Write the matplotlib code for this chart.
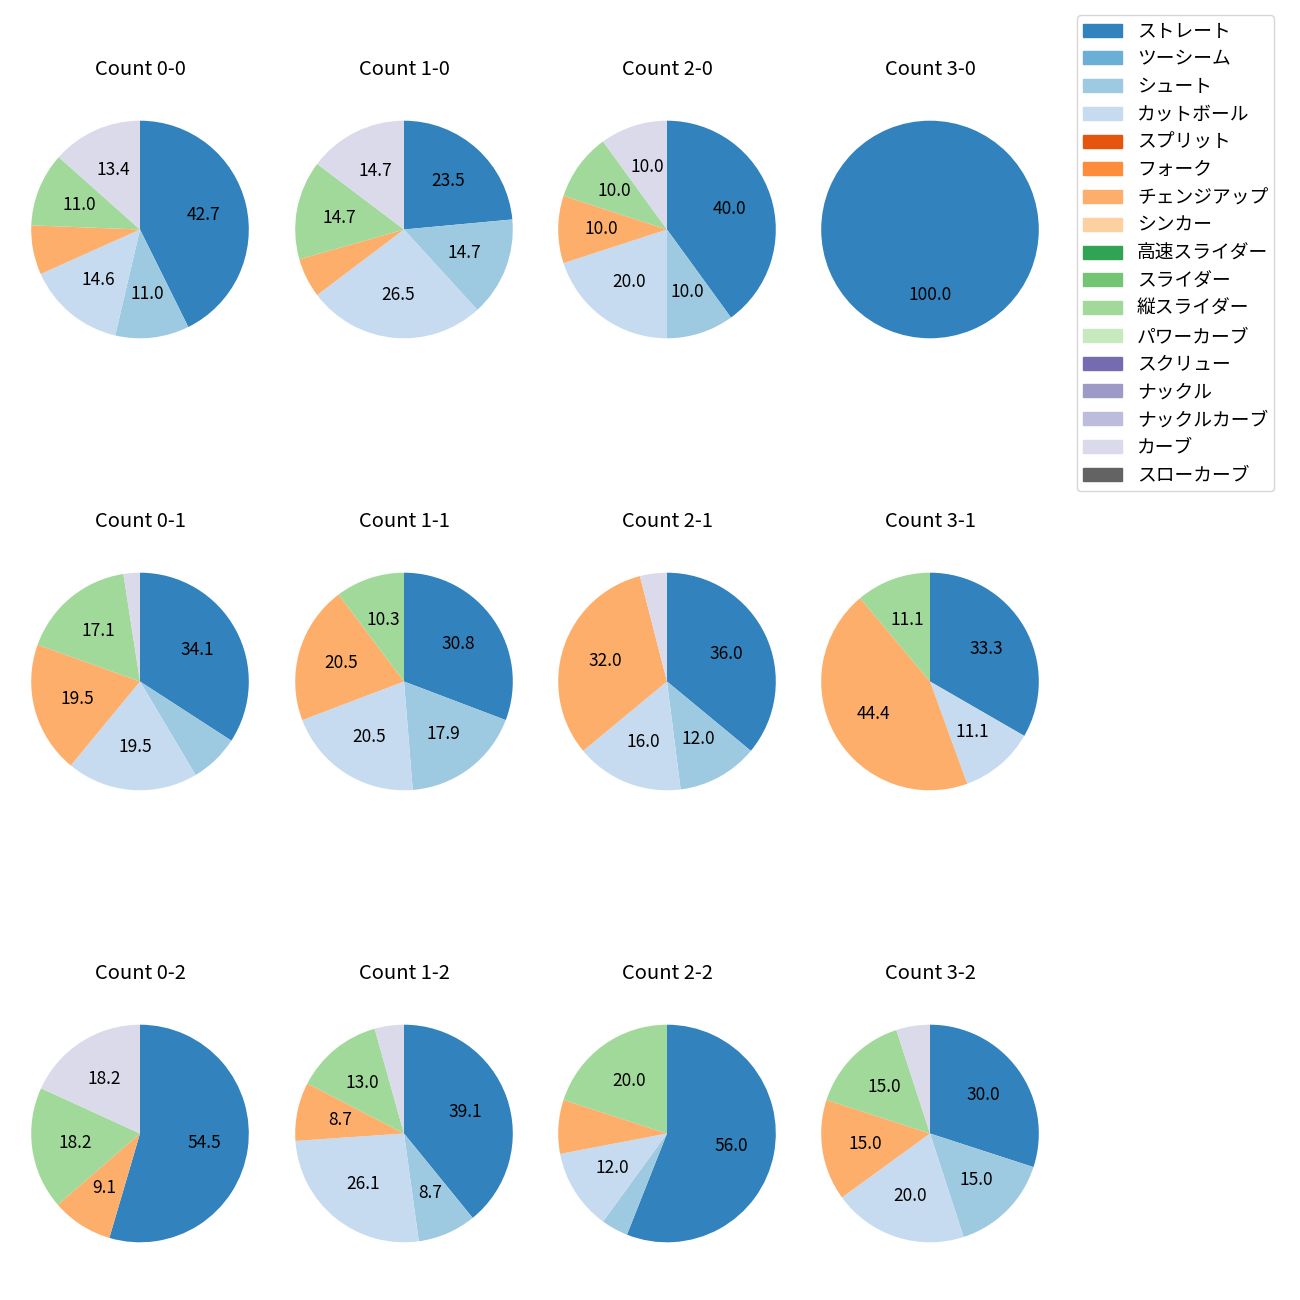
import matplotlib
matplotlib.use("Agg")
import matplotlib.pyplot as plt
import matplotlib.patches as mpatches
import numpy as np

plt.rcParams['font.family'] = ['Noto Sans CJK JP', 'DejaVu Sans']

pitch_types = ['ストレート', 'ツーシーム', 'シュート', 'カットボール', 'スプリット', 'フォーク',
               'チェンジアップ', 'シンカー', '高速スライダー', 'スライダー', '縦スライダー',
               'パワーカーブ', 'スクリュー', 'ナックル', 'ナックルカーブ', 'カーブ', 'スローカーブ']

count_labels = ['0-0', '1-0', '2-0', '3-0',
                '0-1', '1-1', '2-1', '3-1',
                '0-2', '1-2', '2-2', '3-2']

c_0_0 = [35, 0, 9, 12, 0, 0, 6, 0, 0, 0, 9, 0, 0, 0, 0, 11, 0]
c_1_0 = [8, 0, 5, 9, 0, 0, 2, 0, 0, 0, 5, 0, 0, 0, 0, 5, 0]
c_2_0 = [4, 0, 1, 2, 0, 0, 1, 0, 0, 0, 1, 0, 0, 0, 0, 1, 0]
c_3_0 = [1, 0, 0, 0, 0, 0, 0, 0, 0, 0, 0, 0, 0, 0, 0, 0, 0]
c_0_1 = [14, 0, 3, 8, 0, 0, 8, 0, 0, 0, 7, 0, 0, 0, 0, 1, 0]
c_1_1 = [12, 0, 7, 8, 0, 0, 8, 0, 0, 0, 4, 0, 0, 0, 0, 0, 0]
c_2_1 = [9, 0, 3, 4, 0, 0, 8, 0, 0, 0, 0, 0, 0, 0, 0, 1, 0]
c_3_1 = [3, 0, 0, 1, 0, 0, 4, 0, 0, 0, 1, 0, 0, 0, 0, 0, 0]
c_0_2 = [6, 0, 0, 0, 0, 0, 1, 0, 0, 0, 2, 0, 0, 0, 0, 2, 0]
c_1_2 = [9, 0, 2, 6, 0, 0, 2, 0, 0, 0, 3, 0, 0, 0, 0, 1, 0]
c_2_2 = [14, 0, 1, 3, 0, 0, 2, 0, 0, 0, 5, 0, 0, 0, 0, 0, 0]
c_3_2 = [6, 0, 3, 4, 0, 0, 3, 0, 0, 0, 3, 0, 0, 0, 0, 1, 0]

all_counts = [c_0_0, c_1_0, c_2_0, c_3_0,
              c_0_1, c_1_1, c_2_1, c_3_1,
              c_0_2, c_1_2, c_2_2, c_3_2]

cmap = plt.get_cmap('tab20c')
colors = [cmap(i) for i in range(len(pitch_types))]

W = H = 1300
fig = plt.figure(figsize=(13, 13), dpi=100)

centers_x = [140, 404, 667, 930]
centers_y = [229.5, 681.5, 1133.5]
size = 272

for idx, (lab, vals) in enumerate(zip(count_labels, all_counts)):
    r, c = divmod(idx, 4)
    cx, cy = centers_x[c], centers_y[r]
    ax = fig.add_axes([(cx - size / 2) / W, 1 - (cy + size / 2) / H, size / W, size / H])
    v = np.array(vals, dtype=float)
    keep = v > 0
    ax.pie(v[keep], colors=[colors[i] for i in range(len(v)) if keep[i]],
           startangle=90, counterclock=False,
           autopct=lambda p: f'{p:.1f}' if p >= 8.5 else '',
           textprops={'fontsize': 12.5})
    ax.set_title(f'Count {lab}', fontsize=14.5, pad=13)

handles = [mpatches.Patch(color=colors[i], label=pitch_types[i]) for i in range(len(pitch_types))]
fig.legend(handles=handles, loc='upper left', bbox_to_anchor=(1077 / W, 1 - 15 / H),
           fontsize=13.5, borderaxespad=0, labelspacing=0.36, borderpad=0.3,
           handlelength=2.1)

fig.savefig('out.png', dpi=100)
